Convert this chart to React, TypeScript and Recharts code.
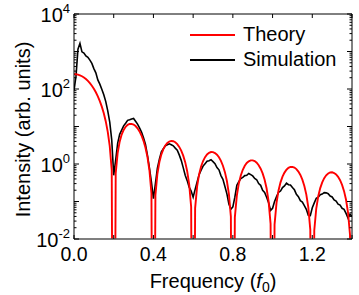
import { LineChart, Line, XAxis, YAxis, Legend } from "recharts";

const FONT = '"Liberation Sans", Arial, sans-serif';

// frequency grid (units of f0)
const freq = [
  0, 0.01, 0.02, 0.03, 0.04, 0.05, 0.06, 0.07, 0.08, 0.09,
  0.1, 0.11, 0.12, 0.13, 0.14, 0.15, 0.16, 0.17, 0.18, 0.19,
  0.2, 0.21, 0.22, 0.23, 0.24, 0.25, 0.26, 0.27, 0.28, 0.29,
  0.3, 0.31, 0.32, 0.33, 0.34, 0.35, 0.36, 0.37, 0.38, 0.39,
  0.4, 0.41, 0.42, 0.43, 0.44, 0.45, 0.46, 0.47, 0.48, 0.49,
  0.5, 0.51, 0.52, 0.53, 0.54, 0.55, 0.56, 0.57, 0.58, 0.59,
  0.6, 0.61, 0.62, 0.63, 0.64, 0.65, 0.66, 0.67, 0.68, 0.69,
  0.7, 0.71, 0.72, 0.73, 0.74, 0.75, 0.76, 0.77, 0.78, 0.79,
  0.8, 0.81, 0.82, 0.83, 0.84, 0.85, 0.86, 0.87, 0.88, 0.89,
  0.9, 0.91, 0.92, 0.93, 0.94, 0.95, 0.96, 0.97, 0.98, 0.99,
  1.0, 1.01, 1.02, 1.03, 1.04, 1.05, 1.06, 1.07, 1.08, 1.09,
  1.1, 1.11, 1.12, 1.13, 1.14, 1.15, 1.16, 1.17, 1.18, 1.19,
  1.2, 1.21, 1.22, 1.23, 1.24, 1.25, 1.26, 1.27, 1.28, 1.29,
  1.3, 1.31, 1.32, 1.33, 1.34, 1.35, 1.36, 1.37, 1.38, 1.39,
  1.4,
];

// red curve; 1e-12 = zero (falls off the bottom of the axis)
const theory = [
  250, 247.9, 241.9, 232, 218.8, 202.6, 184.2, 164.2, 143.2, 122,
  101.3, 81.7, 63.6, 47.6, 33.8, 22.5, 13.67, 7.23, 2.99, 0.687,
  1e-12, 0.562, 2.0, 3.95, 6.08, 8.11, 9.81, 11.03, 11.69, 11.75,
  11.26, 10.28, 8.95, 7.39, 5.74, 4.14, 2.7, 1.53, 0.67, 0.163,
  1e-12, 0.1475, 0.549, 1.13, 1.81, 2.5, 3.13, 3.64, 3.98, 4.12,
  4.05, 3.8, 3.39, 2.86, 2.27, 1.67, 1.12, 0.643, 0.288, 0.0712,
  1e-12, 0.0666, 0.252, 0.526, 0.855, 1.2, 1.52, 1.79, 1.98, 2.08,
  2.07, 1.96, 1.77, 1.51, 1.21, 0.9, 0.606, 0.352, 0.159, 0.0397,
  1e-12, 0.0378, 0.144, 0.303, 0.496, 0.701, 0.897, 1.063, 1.183, 1.248,
  1.251, 1.194, 1.083, 0.93, 0.75, 0.561, 0.38, 0.222, 0.1007, 0.0253,
  1e-12, 0.0243, 0.093, 0.197, 0.324, 0.459, 0.59, 0.703, 0.786, 0.832,
  0.837, 0.802, 0.731, 0.63, 0.51, 0.383, 0.26, 0.153, 0.0695, 0.0175,
  1e-12, 0.0169, 0.065, 0.138, 0.228, 0.324, 0.418, 0.499, 0.559, 0.594,
  0.6, 0.576, 0.526, 0.455, 0.369, 0.278, 0.189, 0.111, 0.0508, 0.0128,
  1e-12,
];

// black curve
const simulation = [
  90, 220, 1150, 1650, 980, 910, 760, 700, 590, 480,
  350, 270, 175, 135, 98, 70, 46, 26, 13, 4.4,
  0.5, 1.3, 3.6, 6.2, 8.0, 10.4, 12.2, 14.6, 15.2, 15.9,
  16.4, 13.8, 11.6, 9.2, 7.1, 5.0, 3.3, 1.7, 0.78, 0.33,
  0.12, 0.3, 0.78, 1.35, 2.1, 2.55, 3.05, 3.25, 3.45, 3.25,
  3.05, 2.65, 2.35, 1.75, 1.25, 0.8, 0.5, 0.36, 0.24, 0.19,
  0.13, 0.21, 0.33, 0.52, 0.68, 0.88, 1.02, 1.18, 1.22, 1.3,
  1.16, 1.02, 0.8, 0.7, 0.49, 0.39, 0.25, 0.16, 0.085, 0.062,
  0.072, 0.13, 0.27, 0.34, 0.41, 0.44, 0.49, 0.5, 0.56, 0.52,
  0.48, 0.41, 0.38, 0.3, 0.27, 0.2, 0.175, 0.13, 0.092, 0.058,
  0.066, 0.1, 0.135, 0.175, 0.19, 0.235, 0.26, 0.31, 0.28, 0.275,
  0.235, 0.205, 0.155, 0.135, 0.105, 0.097, 0.078, 0.062, 0.043, 0.042,
  0.068, 0.092, 0.122, 0.13, 0.152, 0.158, 0.172, 0.17, 0.162, 0.14,
  0.132, 0.11, 0.102, 0.085, 0.08, 0.066, 0.062, 0.048, 0.036, 0.046,
  0.04,
];

const xTicks = [0, 0.2, 0.4, 0.6, 0.8, 1.0, 1.2, 1.4];
const xLabels = [0, 0.4, 0.8, 1.2];
const yDecades = [0.01, 0.1, 1, 10, 100, 1000];
const yMinor = [1, 2, 3, 4, 5, 6, 7, 8, 9];
const yLabelExps = [-2, 0, 2, 4];

const legendItems = [
  { name: "Theory", color: "#ff0000" },
  { name: "Simulation", color: "#000000" },
];

const yTicks = [
  ...yDecades.flatMap((d) => yMinor.map((m) => Number((d * m).toPrecision(3)))),
  10000,
];

const data = freq.map((f, i) => ({ f, theory: theory[i], simulation: simulation[i] }));

const isDecade = (v: number) => {
  const l = Math.log10(v);
  return Math.abs(l - Math.round(l)) < 1e-6;
};

const LeftTick = ({ x, y, payload }: any) => {
  const v = payload.value;
  const exp = Math.round(Math.log10(v));
  const major = isDecade(v);
  return (
    <g>
      <line x1={x} x2={x + (major ? 5 : 2.5)} y1={y} y2={y} stroke="#000" />
      {major && yLabelExps.includes(exp) && (
        <text x={x - 4} y={y + 7.5} textAnchor="end" fontSize={20} fontFamily={FONT} fill="#000">
          10
          <tspan dy={-9} fontSize={13}>
            {exp}
          </tspan>
        </text>
      )}
    </g>
  );
};

const RightTick = ({ x, y, payload }: any) => {
  const major = isDecade(payload.value);
  return <line x1={x} x2={x - (major ? 5 : 2.5)} y1={y} y2={y} stroke="#000" />;
};

const BottomTick = ({ x, y, payload }: any) => {
  const v = payload.value;
  const labelled = xLabels.some((l) => Math.abs(l - v) < 1e-9);
  return (
    <g>
      <line x1={x} x2={x} y1={y} y2={y - 4} stroke="#000" />
      {labelled && (
        <text x={x} y={y + 21.5} textAnchor="middle" fontSize={19.5} fontFamily={FONT} fill="#000">
          {v.toFixed(1)}
        </text>
      )}
    </g>
  );
};

const TopTick = ({ x, y }: any) => <line x1={x} x2={x} y1={y} y2={y + 4} stroke="#000" />;

const YTitle = ({ viewBox }: any) => {
  const vb = viewBox ?? { x: 0, y: 14, width: 74, height: 225 };
  const cx = vb.x + 23;
  const cy = vb.y + vb.height / 2 + 3;
  return (
    <text
      x={cx}
      y={cy}
      transform={`rotate(-90 ${cx} ${cy})`}
      textAnchor="middle"
      dominantBaseline="central"
      fontSize={20}
      fontFamily={FONT}
      fill="#000"
    >
      Intensity (arb. units)
    </text>
  );
};

const XTitle = ({ viewBox }: any) => {
  const vb = viewBox ?? { x: 74, y: 239, width: 278, height: 56 };
  return (
    <text
      x={vb.x + vb.width / 2}
      y={vb.y + 49}
      textAnchor="middle"
      fontSize={20}
      fontFamily={FONT}
      fill="#000"
    >
      Frequency (<tspan fontStyle="italic">f</tspan>
      <tspan dy={4} fontSize={14}>
        0
      </tspan>
      <tspan dy={-4}>)</tspan>
    </text>
  );
};

const LegendBox = () => (
  <div style={{ fontFamily: FONT, fontSize: 20, lineHeight: "25px", color: "#000" }}>
    {legendItems.map((it) => (
      <div key={it.name} style={{ display: "flex", alignItems: "center" }}>
        <span
          style={{ display: "inline-block", width: 45, borderTop: `2px solid ${it.color}`, marginRight: 8 }}
        />
        {it.name}
      </div>
    ))}
  </div>
);

export default function App() {
  return (
    <div style={{ position: "absolute", left: 0, top: 0, fontFamily: FONT, background: "#fff" }}>
      <LineChart width={359} height={295} data={data} margin={{ top: 0, right: 0, bottom: 0, left: 0 }}>
        <XAxis
          xAxisId="bottom"
          dataKey="f"
          type="number"
          domain={[0, 1.4]}
          ticks={xTicks}
          interval={0}
          height={56}
          tickSize={0}
          tickMargin={0}
          tickLine={false}
          tick={<BottomTick />}
          axisLine={{ stroke: "#555", strokeWidth: 1.5 }}
          allowDataOverflow
          label={<XTitle />}
        />
        <XAxis
          xAxisId="top"
          orientation="top"
          dataKey="f"
          type="number"
          domain={[0, 1.4]}
          ticks={xTicks}
          interval={0}
          height={14}
          tickSize={0}
          tickMargin={0}
          tickLine={false}
          tick={<TopTick />}
          axisLine={{ stroke: "#000" }}
          allowDataOverflow
        />
        <YAxis
          yAxisId="left"
          scale="log"
          type="number"
          domain={[0.01, 10000]}
          ticks={yTicks}
          interval={0}
          width={74}
          tickSize={0}
          tickMargin={0}
          tickLine={false}
          tick={<LeftTick />}
          axisLine={{ stroke: "#000" }}
          allowDataOverflow
          label={<YTitle />}
        />
        <YAxis
          yAxisId="right"
          orientation="right"
          scale="log"
          type="number"
          domain={[0.01, 10000]}
          ticks={yTicks}
          interval={0}
          width={7}
          tickSize={0}
          tickMargin={0}
          tickLine={false}
          tick={<RightTick />}
          axisLine={{ stroke: "#000" }}
          allowDataOverflow
        />
        <Legend
          layout="vertical"
          align="center"
          verticalAlign="middle"
          wrapperStyle={{ left: 190, top: 22, width: 160 }}
          content={<LegendBox />}
        />
        <Line
          xAxisId="top"
          yAxisId="right"
          dataKey="simulation"
          name="Simulation"
          type="linear"
          stroke="#000"
          strokeWidth={1.6}
          dot={false}
          activeDot={false}
          isAnimationActive={false}
        />
        <Line
          xAxisId="bottom"
          yAxisId="left"
          dataKey="theory"
          name="Theory"
          type="linear"
          stroke="#ff0000"
          strokeWidth={1.9}
          dot={false}
          activeDot={false}
          isAnimationActive={false}
        />
      </LineChart>
    </div>
  );
}
